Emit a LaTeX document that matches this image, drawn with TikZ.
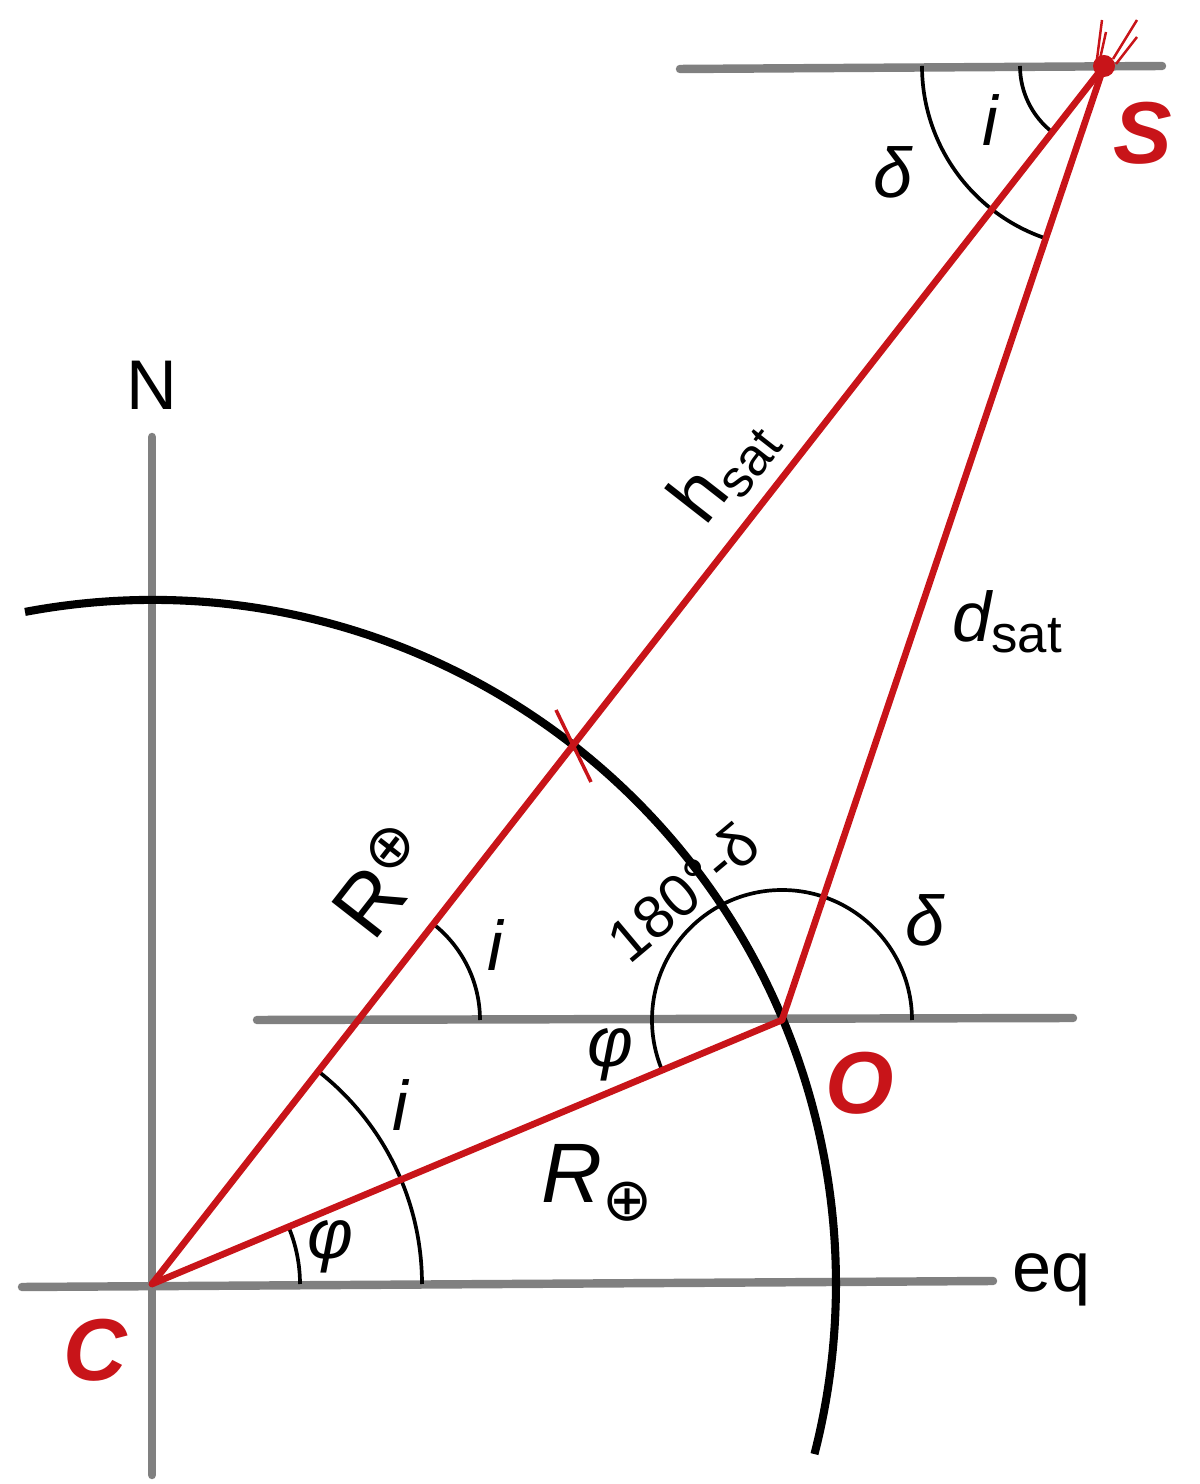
\documentclass[tikz,border=0pt]{standalone}
\usepackage{fontspec}
\setmainfont{Liberation Sans}
\newfontfamily\symfont{DejaVu Sans}
\definecolor{satred}{RGB}{200,20,25}
\definecolor{axisgray}{RGB}{128,128,128}

\begin{document}
\begin{tikzpicture}[
  x=0.01cm,y=0.01cm,
  axis/.style={draw=axisgray,line width=2.4pt,line cap=round},
  ray/.style={draw=satred,line width=1.9pt,line cap=round,line join=round},
  earth/.style={draw=black,line width=2.3pt},
  anglearc/.style={draw=black,line width=1.05pt},
  lbl/.style={font=\fontsize{20}{24}\selectfont},
  ang/.style={font=\fontsize{20}{24}\selectfont\itshape},
  pt/.style={text=satred,font=\fontsize{25}{30}\selectfont\bfseries\itshape}
]
\useasboundingbox (0,0) rectangle (1200,1484);

\coordinate (C) at (152,200);
\coordinate (O) at (782,464);
\coordinate (S) at (1104,1418);
\coordinate (X) at (358,464);

\coordinate (ntop) at (152,1047);
\coordinate (nbot) at (152,9);
\coordinate (eqleft) at (22,197);
\coordinate (eqright) at (993,203);
\coordinate (hleft) at (257,464);
\coordinate (hright) at (1073,466);
\coordinate (tleft) at (680,1415);
\coordinate (tright) at (1162,1418);

% axes and horizontals
\path[axis] (ntop) -- (nbot);
\path[axis] (eqleft) -- (eqright);
\path[axis] (hleft) -- (hright);
\path[axis] (tleft) -- (tright);

% earth
\path[earth] (C) ++(100.7:684) arc[start angle=100.7,end angle=-14.4,radius=684];

% angles
\path[anglearc] (C) ++(0:148) arc[start angle=0,end angle=22.7,radius=148];
\path[anglearc] (C) ++(0:270) arc[start angle=0,end angle=52,radius=270];
\path[anglearc] (X) ++(0:122) arc[start angle=0,end angle=52,radius=122];
\path[anglearc] (O) ++(0:130) arc[start angle=0,end angle=180,radius=130];
\path[anglearc] (O) ++(180:130) arc[start angle=180,end angle=202.7,radius=130];
\path[anglearc] (S) ++(180:182) arc[start angle=180,end angle=251.35,radius=182];
\path[anglearc] (S) ++(180:84) arc[start angle=180,end angle=232,radius=84];

% triangle
\path[ray] (C) -- (S);
\path[ray] (C) -- (O);
\path[ray] (O) -- (S);
\path[draw=satred,line width=1pt] (556,774) -- (591,702);

% satellite
\fill[satred] (S) circle[radius=11];
\path[draw=satred,line width=0.7pt] (1097,1425) -- (1102,1464);
\path[draw=satred,line width=0.7pt] (1100,1425) -- (1106,1452);
\path[draw=satred,line width=0.7pt] (1113,1425) -- (1137,1464);
\path[draw=satred,line width=0.7pt] (1116,1420) -- (1137,1447);

% labels
\node[lbl] (north) at (152,1099) {N};
\node[lbl] (equator) at (1052,204) {eq};
\node[pt] (labelS) at (1143,1351) {S};
\node[pt] (labelO) at (860,401) {O};
\node[pt] (labelC) at (95,134) {C};

\node[lbl,rotate=52] (hsat) at (723,1014) {\fontsize{22}{26}\selectfont h\raisebox{-0.3ex}{\fontsize{15}{15}\selectfont sat}};
\node[lbl] (dsat) at (1007,862) {\itshape d\upshape\raisebox{-0.3ex}{\fontsize{15}{15}\selectfont sat}};
\node[lbl,rotate=52] (rtilt) at (382,604) {\fontsize{24}{28}\selectfont R\raisebox{0.6ex}{\fontsize{17}{17}\symfont ⊕}};
\node[lbl] (rearth) at (597,301) {\fontsize{24}{28}\selectfont\itshape R\upshape\raisebox{-0.4ex}{\fontsize{17}{17}\symfont ⊕}};
\node[lbl,rotate=40] (suppl) at (683,592) {\fontsize{17}{20}\selectfont 180°-δ};

\node[ang] (deltaO) at (925,564) {δ};
\node[ang] (iX) at (495,539) {i};
\node[ang] (phiO) at (610,429) {φ};
\node[ang] (iC) at (400,379) {i};
\node[ang] (phiC) at (330,237) {φ};
\node[ang] (deltaS) at (893,1312) {δ};
\node[ang] (iS) at (990,1364) {i};
\end{tikzpicture}
\end{document}
